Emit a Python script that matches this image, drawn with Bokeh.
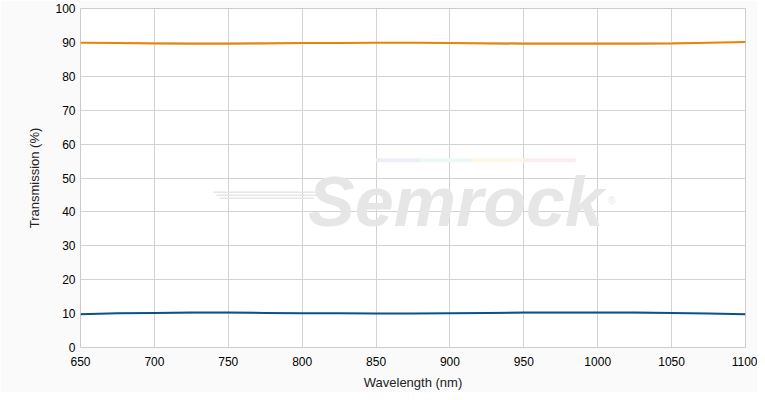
from bokeh.plotting import figure
from bokeh.embed import file_html
from bokeh.resources import INLINE
from bokeh.models import FixedTicker, Range1d
from bokeh.core.properties import value

wavelength = [650, 675, 700, 725, 750, 775, 800, 825, 850, 875, 900, 925, 950, 975, 1000, 1025, 1050, 1075, 1100]
trans_orange = [89.9, 89.8, 89.7, 89.6, 89.6, 89.7, 89.8, 89.8, 89.9, 89.9, 89.8, 89.7, 89.6, 89.6, 89.6, 89.6, 89.7, 89.9, 90.1]
trans_blue = [9.8, 10.1, 10.2, 10.3, 10.3, 10.2, 10.1, 10.1, 10.0, 10.0, 10.1, 10.2, 10.3, 10.3, 10.3, 10.3, 10.2, 10.0, 9.8]
x_ticks = [650, 700, 750, 800, 850, 900, 950, 1000, 1050, 1100]
y_ticks = [0, 10, 20, 30, 40, 50, 60, 70, 80, 90, 100]

FONT = "Liberation Sans"

p = figure(width=757, height=392, output_backend="svg", toolbar_location=None,
           x_range=Range1d(650, 1100), y_range=Range1d(0, 100),
           min_border_left=80, min_border_right=12, min_border_top=8, min_border_bottom=45)

p.background_fill_color = "white"
p.border_fill_color = "#fafafa"
p.outline_line_color = "#cccccc"
p.outline_line_width = 1

# watermark
p.segment(x0=[850, 880, 915, 950], y0=[55.2] * 4, x1=[880, 915, 950, 985], y1=[55.2] * 4,
          line_color=["#eeeefa", "#eef8f4", "#fbf8e8", "#fbeeee"], line_width=4)
p.segment(x0=[740, 742, 744], y0=[45.8, 44.9, 44.0], x1=[812, 810, 808], y1=[45.8, 44.9, 44.0],
          line_color="#e6e6e6", line_width=1.5)
p.text(x=[804], y=[42.8], text=["Semrock"], text_font=value(FONT), text_font_size="70px",
       text_font_style="bold italic", text_color="#e6e6e6", text_align="left", text_baseline="alphabetic")
p.text(x=[1007], y=[43.5], text=["®"], text_font=value(FONT), text_font_size="10px",
       text_color="#e6e6e6", text_align="left", text_baseline="alphabetic")

p.line(wavelength, trans_orange, line_color="#EF8200", line_width=2)
p.line(wavelength, trans_blue, line_color="#0C5288", line_width=2)

p.xaxis.ticker = FixedTicker(ticks=x_ticks)
p.yaxis.ticker = FixedTicker(ticks=y_ticks)
for ax in (p.xaxis[0], p.yaxis[0]):
    ax.axis_line_color = None
    ax.major_tick_line_color = None
    ax.minor_tick_line_color = None
    ax.major_tick_out = 0
    ax.major_tick_in = 0
    ax.minor_tick_out = 0
    ax.minor_tick_in = 0
    ax.major_label_text_font = FONT
    ax.major_label_text_font_size = "12px"
    ax.major_label_text_color = "#000000"
    ax.axis_label_text_font = FONT
    ax.axis_label_text_font_size = "13px"
    ax.axis_label_text_font_style = "normal"
    ax.axis_label_text_color = "#222222"
p.xaxis.axis_label = "Wavelength (nm)"
p.yaxis.axis_label = "Transmission (%)"
p.xaxis.major_label_standoff = 9
p.yaxis.major_label_standoff = 5
p.xaxis.axis_label_standoff = 6
p.yaxis.axis_label_standoff = 10

p.xgrid.grid_line_color = "#d3d3d3"
p.ygrid.grid_line_color = "#d3d3d3"

open("out.html", "w").write(file_html(p, INLINE))
